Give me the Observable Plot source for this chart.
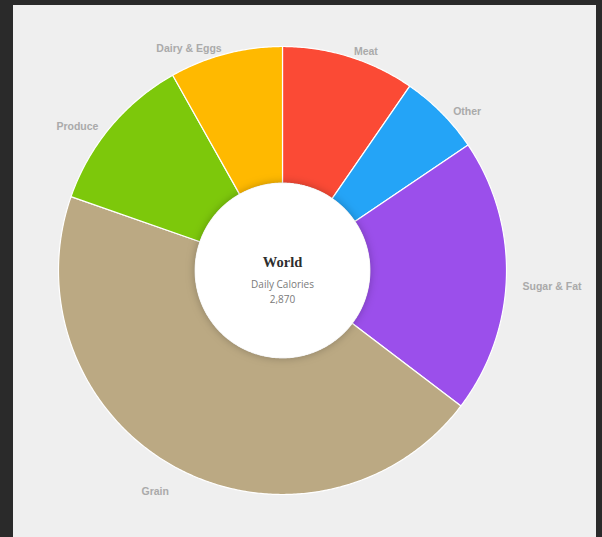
<!DOCTYPE html>
<html>
<head>
<meta charset="utf-8">
<script src="https://cdn.jsdelivr.net/npm/d3@7"></script>
<script src="https://cdn.jsdelivr.net/npm/@observablehq/plot@0.6"></script>
<style>
  html, body { margin: 0; padding: 0; background: #2a2a2a; width: 602px; height: 537px; overflow: hidden; }
  #panel { position: absolute; left: 13px; top: 5px; width: 583px; height: 532px; background: #efefef; }
</style>
</head>
<body>
<div id="panel"></div>
<script>
// ---- data ----
const categories = ["Meat", "Other", "Sugar & Fat", "Grain", "Produce", "Dairy & Eggs"];
const calories = [276, 170, 568, 1292, 330, 234];
const colors = ["#fb4a35", "#24a4f7", "#9b4feb", "#bba983", "#7dc80b", "#ffb900"];
const centerTitle = "World";
const centerSubtitle = "Daily Calories";
const centerTotal = "2,870";

// ---- geometry (unit circle, angles clockwise from 12 o'clock) ----
const innerR = 0.39;
const labelR = 1.072;
const arcs = d3.pie().sort(null).value(d => d)(calories);
const pt = (r, a) => ({x: r * Math.sin(a), y: r * Math.cos(a)});

const slicePts = [];
arcs.forEach((arc, i) => {
  const cat = categories[i];
  const n = Math.max(8, Math.ceil((arc.endAngle - arc.startAngle) / (Math.PI / 360)));
  const poly = [];
  for (let k = 0; k <= n; k++) poly.push(pt(1, arc.startAngle + (arc.endAngle - arc.startAngle) * k / n));
  for (let k = n; k >= 0; k--) poly.push(pt(innerR, arc.startAngle + (arc.endAngle - arc.startAngle) * k / n));
  poly.push(poly[0]);
  poly.forEach(p => slicePts.push({...p, cat}));
});

const holePts = d3.range(0, 361, 1).map(d => ({...pt(innerR, d * Math.PI / 180), cat: "hole"}));

const labels = arcs.map((arc, i) => {
  const mid = (arc.startAngle + arc.endAngle) / 2;
  return {...pt(labelR, mid), text: categories[i], right: Math.sin(mid) >= 0};
});

const R = 224, cx = 269, cy = 265;
const labelFont = "'Liberation Sans', Arial, sans-serif";
const labelStyle = {x: "x", y: "y", text: "text", dy: 10, fill: "#aaaaaa", fontSize: 10.5, fontWeight: "bold", fontFamily: labelFont, letterSpacing: "-0.2px"};

const chart = Plot.plot({
  width: 583,
  height: 532,
  margin: 0,
  style: {background: "transparent", overflow: "visible"},
  x: {domain: [-1, 1], range: [cx - R, cx + R], axis: null},
  y: {domain: [-1, 1], range: [cy + R, cy - R], axis: null},
  color: {domain: categories, range: colors},
  marks: [
    Plot.line(slicePts, {x: "x", y: "y", z: "cat", fill: "cat", stroke: "#ffffff", strokeWidth: 1.2, strokeLinejoin: "round"}),
    Plot.line(holePts, {x: "x", y: "y", fill: "#ffffff", stroke: "none"}),
    Plot.text(labels.filter(d => d.right), {...labelStyle, textAnchor: "start"}),
    Plot.text(labels.filter(d => !d.right), {...labelStyle, textAnchor: "end"}),
    Plot.text([centerTitle], {x: 0, y: 0, text: d => d, dy: -8, fill: "#2e2e2e", fontSize: 14.5, fontWeight: "bold", fontFamily: "'Liberation Serif', 'DejaVu Serif', serif"}),
    Plot.text([centerSubtitle], {x: 0, y: 0, text: d => d, dy: 14, fill: "#7a7a7a", fontSize: 10, fontFamily: "'Open Sans', sans-serif"}),
    Plot.text([centerTotal], {x: 0, y: 0, text: d => d, dy: 29.5, fill: "#7a7a7a", fontSize: 10, fontFamily: "'Open Sans', sans-serif"})
  ]
});

// soft shadow under the white centre disc
const svg = d3.select(chart);
const defs = svg.insert("defs", ":first-child");
const f = defs.append("filter").attr("id", "holeShadow").attr("x", "-30%").attr("y", "-30%").attr("width", "160%").attr("height", "160%");
f.append("feDropShadow").attr("dx", 0).attr("dy", 0).attr("stdDeviation", 5).attr("flood-color", "#000").attr("flood-opacity", 0.28);
const lineGroups = svg.selectAll("g[aria-label='line']").nodes();
if (lineGroups.length > 1) d3.select(lineGroups[1]).attr("filter", "url(#holeShadow)");

document.getElementById("panel").appendChild(chart);
</script>
</body>
</html>
